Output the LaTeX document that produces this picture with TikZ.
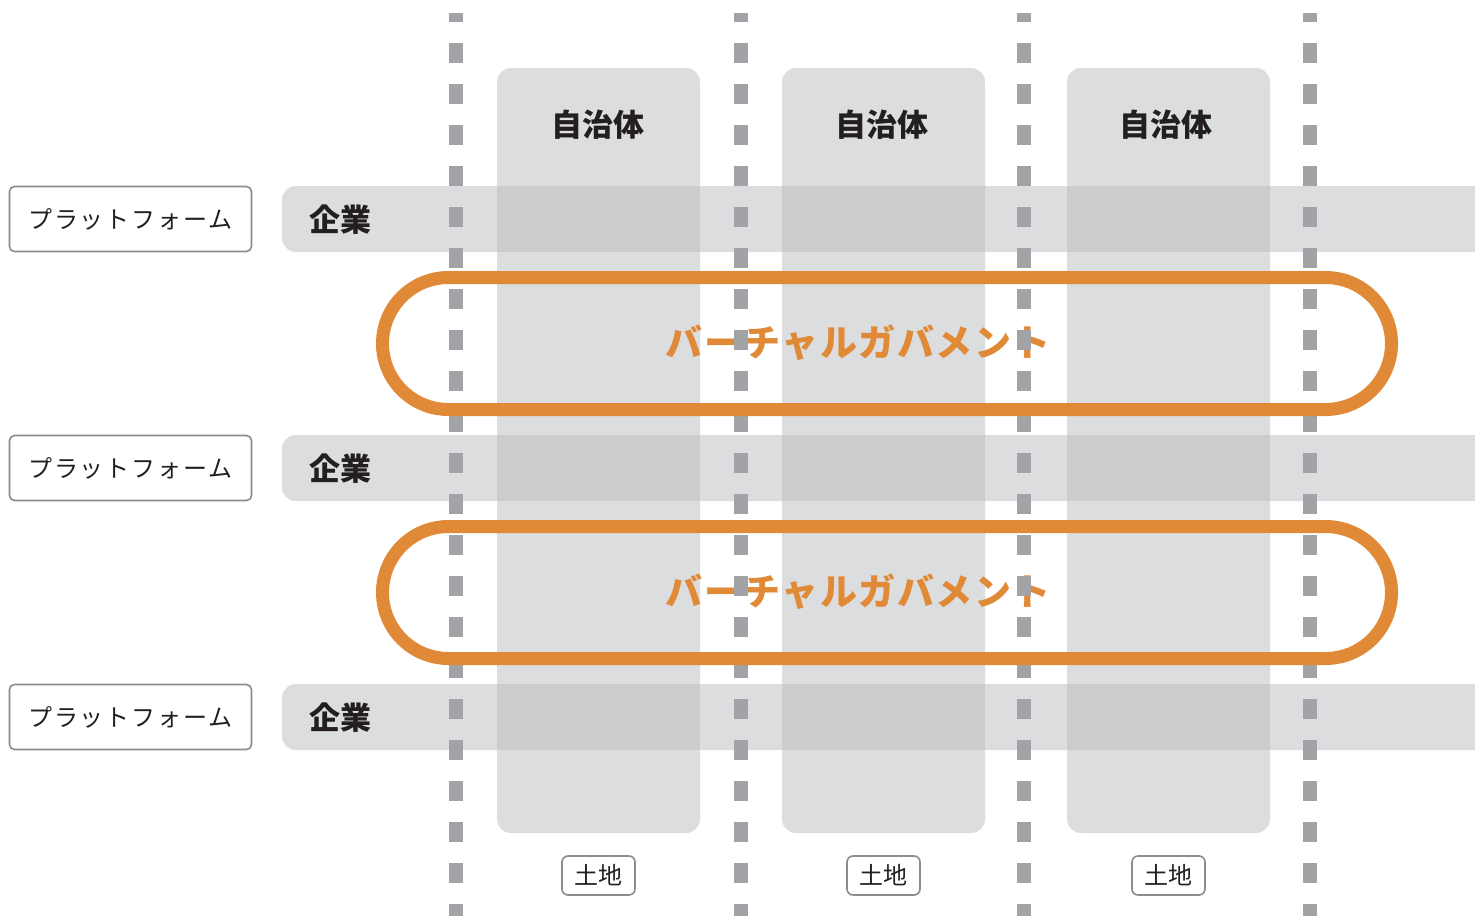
\documentclass[tikz,border=0pt]{standalone}
\usepackage{fontspec}
\newfontfamily\jp{Noto Sans CJK JP}
\definecolor{colgray}{HTML}{DCDDDF}
\definecolor{overgray}{HTML}{CBCCCE}
\definecolor{dashgray}{HTML}{A2A3A6}
\definecolor{vgorange}{HTML}{E08A38}
\definecolor{boxline}{HTML}{8C8C8C}
\definecolor{txt}{HTML}{231F20}
\begin{document}
\begin{tikzpicture}[x=1pt,y=-1pt,
  column/.style={fill=colgray, rounded corners=14pt, minimum width=203pt, minimum height=765pt, inner sep=0pt},
  band/.style={fill=colgray, rounded corners=14pt},
  overlap/.style={fill=overgray},
  coltext/.style={text=txt, font=\jp\bfseries\fontsize{31}{31}\selectfont, inner sep=0pt},
  kigyo/.style={text=txt, font=\jp\bfseries\fontsize{31}{31}\selectfont, inner sep=0pt, anchor=west},
  platbox/.style={draw=boxline, line width=1.6pt, fill=white, rounded corners=5pt, minimum width=242pt, minimum height=65pt, inner sep=0pt, text=txt, font=\jp\fontsize{24}{24}\selectfont\addfontfeature{LetterSpace=8}},
  tochi/.style={draw=boxline, line width=1.6pt, fill=white, rounded corners=6pt, minimum width=73pt, minimum height=39pt, inner sep=0pt, text=txt, font=\jp\fontsize{24}{24}\selectfont},
  dashline/.style={draw=dashgray, line width=14pt, dash pattern=on 20pt off 21pt, dash phase=11pt},
  vgring/.style={draw=vgorange, line width=13pt, rounded corners=66pt, minimum width=1009pt, minimum height=132pt, inner sep=0pt},
  vgtext/.style={text=vgorange, font=\jp\bfseries\fontsize{37}{37}\selectfont\addfontfeature{LetterSpace=5}, inner sep=0pt}
]
\useasboundingbox (0,0) rectangle (1475,916);
\fill[white] (0,0) rectangle (1475,916);
% columns
\node[column] (c1) at (598.5,450.5) {};
\node[column] (c2) at (883.5,450.5) {};
\node[column] (c3) at (1168.5,450.5) {};
\node[coltext] (j1) at (598,125) {自治体};
\node[coltext] (j2) at (882,125) {自治体};
\node[coltext] (j3) at (1166,125) {自治体};
% bands
\foreach \y in {186,435,684}{
  \fill[band] (282,\y) rectangle (1500,\y+66);
  \foreach \x in {497,782,1067}{
    \fill[overlap] (\x,\y) rectangle (\x+203,\y+66);
  }
}
\node[kigyo] (k1) at (309,220) {企業};
\node[kigyo] (k2) at (309,469) {企業};
\node[kigyo] (k3) at (309,718) {企業};
% platform boxes
\node[platbox] (p1) at (130.5,219) {プラットフォーム};
\node[platbox] (p2) at (130.5,468) {プラットフォーム};
\node[platbox] (p3) at (130.5,717) {プラットフォーム};
% land boxes
\node[tochi] (t1) at (598.5,875.5) {土地};
\node[tochi] (t2) at (883.5,875.5) {土地};
\node[tochi] (t3) at (1168.5,875.5) {土地};
% virtual government texts
\node[vgtext] (g1) at (858,343) {バーチャルガバメント};
\node[vgtext] (g2) at (858,592) {バーチャルガバメント};
% dashed borders
\coordinate (d1t) at (456,13);  \coordinate (d1b) at (456,916);
\coordinate (d2t) at (741,13);  \coordinate (d2b) at (741,916);
\coordinate (d3t) at (1024,13); \coordinate (d3b) at (1024,916);
\coordinate (d4t) at (1310,13); \coordinate (d4b) at (1310,916);
\draw[dashline] (d1t) -- (d1b);
\draw[dashline] (d2t) -- (d2b);
\draw[dashline] (d3t) -- (d3b);
\draw[dashline] (d4t) -- (d4b);
% rings
\node[vgring] (r1) at (887,343.5) {};
\node[vgring] (r2) at (887,592.5) {};
\end{tikzpicture}
\end{document}
